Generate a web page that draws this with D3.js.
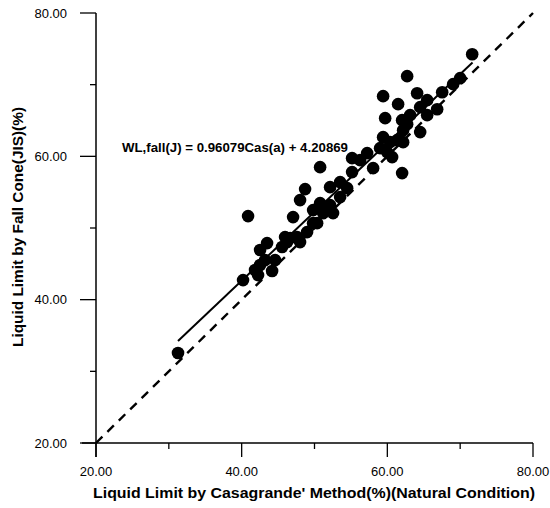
<!DOCTYPE html>
<html>
<head>
<meta charset="utf-8">
<script src="https://cdn.jsdelivr.net/npm/d3@7"></script>
<style>
  html, body { margin: 0; padding: 0; background: #fff; }
  svg { display: block; font-family: "Liberation Sans", Arial, sans-serif; }
</style>
</head>
<body>
<svg id="chart" width="550" height="508"></svg>
<script>
// Data: Casagrande liquid limit (x) vs fall cone liquid limit (y)
const casX = [31.26, 40.19, 40.88, 41.84, 42.25, 42.53, 42.53, 43.21, 43.49, 44.18,
  44.59, 45.55, 46.24, 46.65, 45.96, 47.61, 48.02, 47.06, 48.02, 48.98,
  49.81, 50.36, 49.81, 50.77, 51.73, 52.55, 52.14, 51.18, 48.71, 50.77,
  52.14, 53.52, 54.48, 53.52, 55.16, 55.16, 56.26, 57.23, 58.05, 59.01,
  59.97, 60.66, 59.42, 60.38, 61.35, 62.17, 59.70, 62.03, 63.13, 62.72,
  62.17, 64.51, 65.47, 66.84, 65.47, 64.51, 64.09, 61.48, 59.42, 62.72,
  62.03, 67.53, 69.04, 70.00, 71.65];
const coneY = [32.55, 42.73, 51.66, 44.13, 43.43, 44.83, 46.92, 45.52, 47.89, 43.99,
  45.52, 47.34, 48.03, 48.59, 48.73, 48.73, 48.03, 51.52, 53.89, 49.43,
  50.68, 50.68, 52.50, 53.47, 52.78, 52.08, 53.19, 52.08, 55.43, 58.49,
  55.70, 56.40, 55.56, 54.31, 57.80, 59.75, 59.47, 60.45, 58.35, 61.14,
  60.59, 59.89, 62.68, 61.98, 62.26, 61.98, 65.33, 65.05, 65.75, 64.49,
  63.65, 63.38, 65.75, 66.58, 67.84, 66.86, 68.81, 67.28, 68.40, 71.19,
  57.66, 68.95, 70.07, 70.91, 74.25];

const xTicks = [20, 30, 40, 50, 60, 70, 80];
const yTicks = [20, 30, 40, 50, 60, 70, 80];
const majorTicks = [20, 40, 60, 80];

const slope = 0.96079, intercept = 4.20869;
const fitRange = [31.26, 71.7];
const equalityRange = [20, 80];

const xTitle = "Liquid Limit by Casagrande' Method(%)(Natural Condition)";
const yTitle = "Liquid Limit by Fall Cone(JIS)(%)";
const equation = "WL,fall(J) = 0.96079Cas(a) + 4.20869";

const svg = d3.select("#chart");
const x = d3.scaleLinear().domain([20, 80]).range([96, 533]);
const y = d3.scaleLinear().domain([20, 80]).range([443, 13]);

const fmt = d3.format(".2f");

// Y axis
const yAxis = svg.append("g").attr("transform", `translate(${x(20)},0)`);
yAxis.append("line").attr("x1", 0).attr("x2", 0).attr("y1", y(80)).attr("y2", y(20) + 14)
  .attr("stroke", "#000").attr("stroke-width", 1.5);
yAxis.selectAll("line.tick").data(yTicks).enter().append("line")
  .attr("class", "tick")
  .attr("x1", d => majorTicks.includes(d) ? -16 : -6).attr("x2", 0)
  .attr("y1", d => y(d)).attr("y2", d => y(d))
  .attr("stroke", "#000").attr("stroke-width", 1.3);
yAxis.selectAll("text").data(majorTicks).enter().append("text")
  .attr("x", -29).attr("y", d => y(d)).attr("dy", "0.35em")
  .attr("text-anchor", "end").attr("font-size", 13).text(d => fmt(d));

// X axis
const xAxis = svg.append("g").attr("transform", `translate(0,${y(20)})`);
xAxis.append("line").attr("x1", x(20) - 14).attr("x2", x(80)).attr("y1", 0).attr("y2", 0)
  .attr("stroke", "#000").attr("stroke-width", 1.5);
xAxis.selectAll("line.tick").data(xTicks).enter().append("line")
  .attr("class", "tick")
  .attr("y1", 0).attr("y2", d => majorTicks.includes(d) ? 14 : 6)
  .attr("x1", d => x(d)).attr("x2", d => x(d))
  .attr("stroke", "#000").attr("stroke-width", 1.3);
xAxis.selectAll("text").data(majorTicks).enter().append("text")
  .attr("x", d => x(d)).attr("y", 33)
  .attr("text-anchor", "middle").attr("font-size", 13).text(d => fmt(d));

// Titles
svg.append("text").attr("x", 314).attr("y", 497.5)
  .attr("text-anchor", "middle").attr("font-size", 14.5).attr("font-weight", "bold")
  .attr("textLength", 442).attr("lengthAdjust", "spacingAndGlyphs").text(xTitle);
svg.append("text").attr("transform", `translate(23,227) rotate(-90)`)
  .attr("text-anchor", "middle").attr("font-size", 14.5).attr("font-weight", "bold")
  .attr("textLength", 240).attr("lengthAdjust", "spacingAndGlyphs").text(yTitle);

// Equality line (dashed)
svg.append("line")
  .attr("x1", x(equalityRange[0])).attr("y1", y(equalityRange[0]))
  .attr("x2", x(equalityRange[1])).attr("y2", y(equalityRange[1]))
  .attr("stroke", "#000").attr("stroke-width", 2.4).attr("stroke-dasharray", "9,7");

// Regression line
svg.append("line")
  .attr("x1", x(fitRange[0])).attr("y1", y(slope * fitRange[0] + intercept))
  .attr("x2", x(fitRange[1])).attr("y2", y(slope * fitRange[1] + intercept))
  .attr("stroke", "#000").attr("stroke-width", 2);

// Points
svg.append("g").selectAll("circle").data(casX.map((d, i) => [d, coneY[i]])).enter()
  .append("circle")
  .attr("cx", d => x(d[0])).attr("cy", d => y(d[1])).attr("r", 6.3)
  .attr("fill", "#000");

// Equation
svg.append("text").attr("x", 122).attr("y", 152)
  .attr("font-size", 13).attr("font-weight", "bold")
  .attr("textLength", 226).attr("lengthAdjust", "spacingAndGlyphs").text(equation);
</script>
</body>
</html>
